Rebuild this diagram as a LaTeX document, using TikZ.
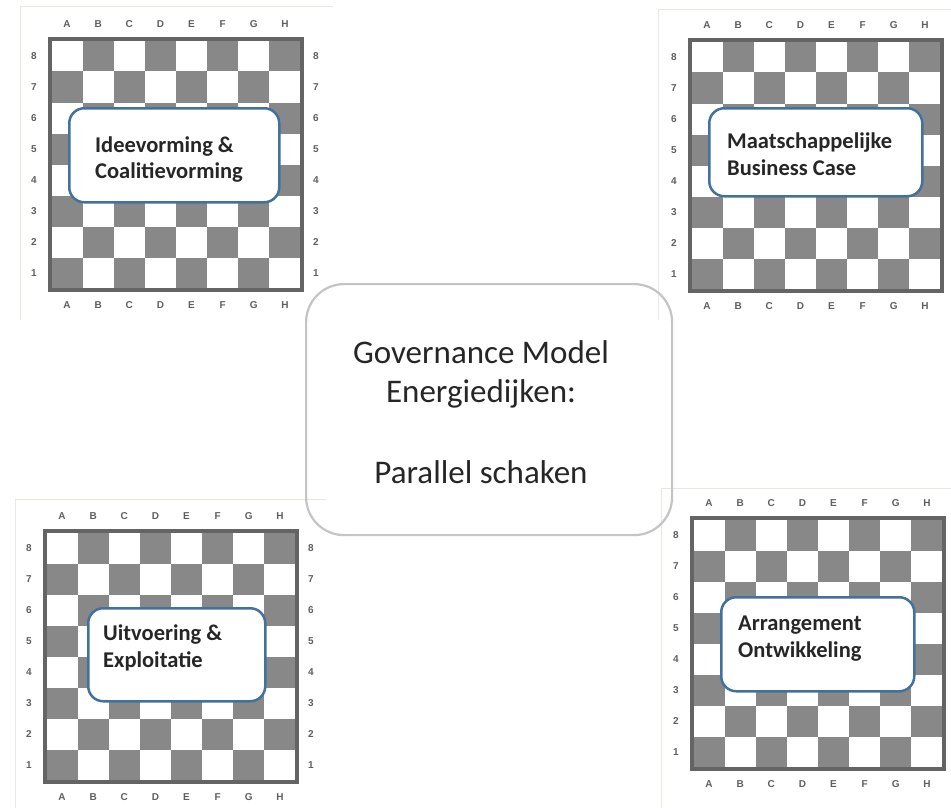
\documentclass[tikz,border=0pt]{standalone}
\usepackage{fontspec}
\setmainfont{Carlito}
\newfontfamily\coordfont{Liberation Sans}

\definecolor{darksq}{RGB}{136,136,136}
\definecolor{boardframe}{RGB}{100,100,100}
\definecolor{coordgray}{RGB}{95,95,95}
\definecolor{imgedge}{RGB}{232,232,222}
\definecolor{boxblue}{RGB}{65,113,156}
\definecolor{centerline}{RGB}{196,196,196}

\tikzset{
  coordlabel/.style={font=\coordfont\bfseries\fontsize{10}{12}\selectfont, text=coordgray, inner sep=0pt},
  phasebox/.style={draw=boxblue, line width=2.5pt, fill=white, rounded corners=15pt,
    inner sep=0pt, anchor=north west},
  phasetext/.style={font=\fontsize{22.5}{26}\selectfont\bfseries, text=black!85,
    inner sep=0pt, anchor=base west},
  centerbox/.style={draw=centerline, line width=2.2pt, rounded corners=38pt,
    inner sep=0pt, anchor=north west},
  titletext/.style={font=\fontsize{33}{40}\selectfont, text=black!85,
    inner sep=0pt, anchor=base},
  edgeline/.style={draw=imgedge, line width=1pt},
}

% chessboard: #1,#2 = top left corner of the frame, #3 = name prefix
\newcommand\drawboard[3]{%
  \begin{scope}[shift={(#1,#2)}]
    \foreach \c in {0,...,7}{%
      \foreach \r in {0,...,7}{%
        \pgfmathtruncatemacro\odd{mod(\c+\r,2)}%
        \ifnum\odd=1
          \fill[darksq] (1.5+\c*31.125,1.5+\r*31) rectangle ++(31.125,31);
        \fi
      }%
    }
    \draw[boardframe, line width=3.5pt] (0,0) rectangle (252,251);
    \foreach \L [count=\i from 0] in {A,B,C,D,E,F,G,H}{%
      \node[coordlabel] (#3-top-\L) at (1.5+\i*31.125+15.56,-15) {\L};
      \node[coordlabel] (#3-bot-\L) at (1.5+\i*31.125+15.56,266) {\L};
    }
    \foreach \n in {1,...,8}{%
      \node[coordlabel] (#3-left-\n) at (-16,1.5+8*31-\n*31+15.5) {\n};
      \node[coordlabel] (#3-right-\n) at (266,1.5+8*31-\n*31+15.5) {\n};
    }
  \end{scope}
}

\begin{document}
\begin{tikzpicture}[x=1pt,y=-1pt]
  \useasboundingbox[fill=white] (0,0) rectangle (951,808);

  % faint edges of the four board pictures
  \draw[edgeline] (20,320) -- (20,7) -- (333,7);
  \draw[edgeline] (658,320) -- (658,10) -- (951,10);
  \draw[edgeline] (15,808) -- (15,499) -- (326,499);
  \draw[edgeline] (661,808) -- (661,488) -- (951,488);

  % the four boards
  \drawboard{50}{39}{tl}
  \drawboard{690}{40}{tr}
  \drawboard{45}{531}{bl}
  \drawboard{692}{518}{br}

  % phase boxes
  \node[phasebox, minimum width=210pt, minimum height=94pt] (ideas) at (68,107) {};
  \node[phasetext] (ideas1) at (95,152) {Ideevorming \&};
  \node[phasetext] (ideas2) at (95,178) {Coalitievorming};

  \node[phasebox, minimum width=213pt, minimum height=88pt] (business) at (708,107) {};
  \node[phasetext] (business1) at (727,148) {Maatschappelijke};
  \node[phasetext] (business2) at (727,175) {Business Case};

  \node[phasebox, minimum width=177pt, minimum height=93pt] (exec) at (87,607) {};
  \node[phasetext] (exec1) at (103,640) {Uitvoering \&};
  \node[phasetext] (exec2) at (103,667) {Exploitatie};

  \node[phasebox, minimum width=193pt, minimum height=94pt] (arrange) at (720,596) {};
  \node[phasetext] (arrange1) at (738,630) {Arrangement};
  \node[phasetext] (arrange2) at (738,657) {Ontwikkeling};

  % central title box
  \node[centerbox, minimum width=366pt, minimum height=251pt] (model) at (305,283) {};
  \node[titletext] (title1) at (481,363) {Governance Model};
  \node[titletext] (title2) at (481,402) {Energiedijken:};
  \node[titletext] (title3) at (481,483) {Parallel schaken};
\end{tikzpicture}
\end{document}
